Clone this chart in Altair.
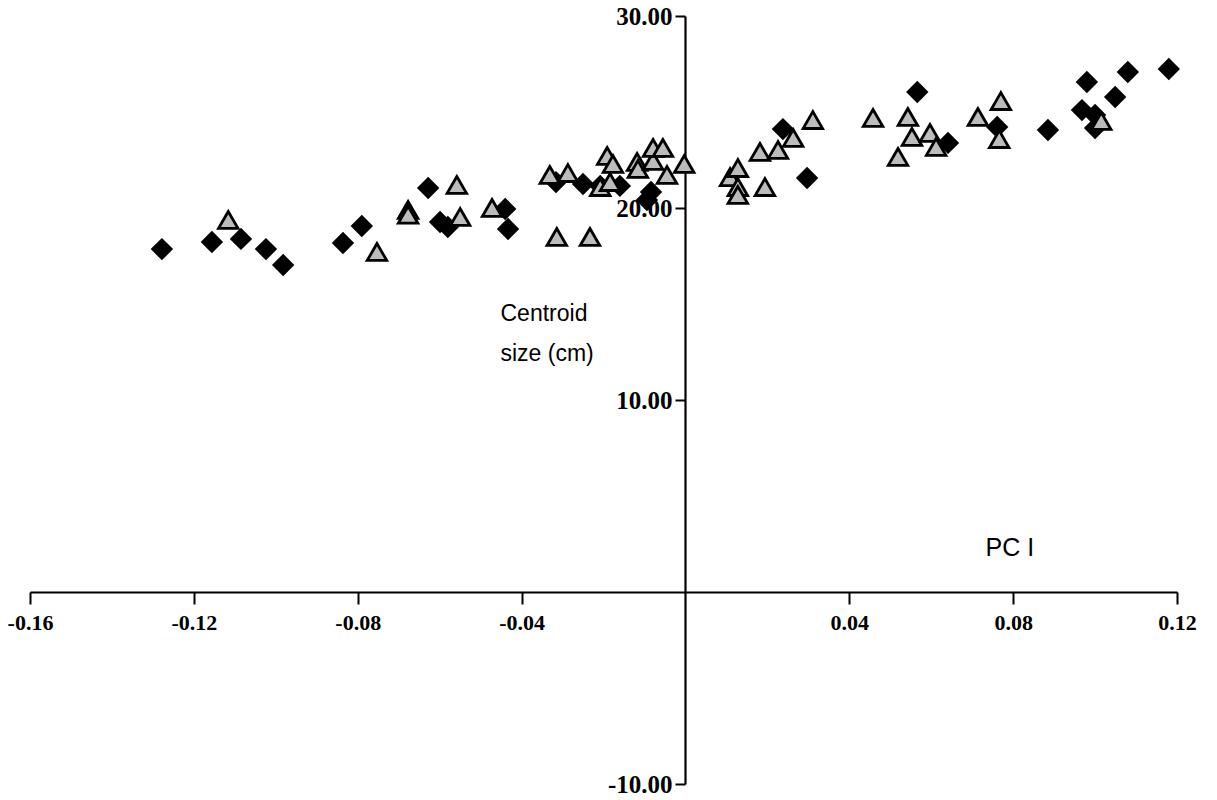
import altair as alt
import pandas as pd

# Filled diamonds (group A)
x_diamond = [-0.1278, -0.1156, -0.1085, -0.1024, -0.0982, -0.0836, -0.0790, -0.0628,
             -0.0599, -0.0580, -0.0440, -0.0433, -0.0316, -0.0250, -0.0208, -0.0160,
             -0.0084, -0.0094, 0.0238, 0.0297, 0.0566, 0.0641, 0.0761, 0.0885,
             0.0980, 0.1080, 0.1180, 0.1049, 0.0968, 0.1000, 0.1000]
y_diamond = [17.86, 18.23, 18.39, 17.86, 17.03, 18.18, 19.06, 21.04,
             19.27, 19.01, 19.95, 18.91, 21.35, 21.25, 21.15, 21.15,
             20.83, 20.42, 24.11, 21.56, 26.04, 23.39, 24.22, 24.06,
             26.56, 27.08, 27.24, 25.78, 25.10, 24.84, 24.17]

# Open grey triangles (group B)
x_triangle = [-0.1116, -0.0677, -0.0677, -0.0753, -0.0558, -0.0550, -0.0472, -0.0314,
              -0.0233, -0.0331, -0.0287, -0.0191, -0.0177, -0.0208, -0.0184, -0.0118,
              -0.0116, -0.0079, -0.0079, -0.0055, -0.0045, -0.0003, 0.0109, 0.0128,
              0.0128, 0.0128, 0.0194, 0.0182, 0.0226, 0.0263, 0.0311, 0.0458,
              0.0543, 0.0553, 0.0597, 0.0612, 0.0519, 0.0714, 0.0770, 0.0766, 0.1015]
y_triangle = [19.38, 19.90, 19.65, 17.71, 21.20, 19.53, 20.00, 18.49,
              18.49, 21.72, 21.82, 22.71, 22.29, 21.09, 21.35, 22.40,
              22.03, 22.45, 23.13, 23.13, 21.72, 22.29, 21.61, 22.08,
              21.09, 20.68, 21.09, 22.92, 23.02, 23.65, 24.58, 24.69,
              24.74, 23.70, 23.91, 23.18, 22.66, 24.74, 25.57, 23.59, 24.53]

x_ticks = [-0.16, -0.12, -0.08, -0.04, 0.04, 0.08, 0.12]
y_ticks = [-10, 10, 20, 30]

df = pd.concat([
    pd.DataFrame({"pc": x_diamond, "cs": y_diamond, "grp": "A"}),
    pd.DataFrame({"pc": x_triangle, "cs": y_triangle, "grp": "B"}),
], ignore_index=True)

W, H = 1147, 768
label_expr = "replace(format(datum.value, '.2f'), '\u2212', '-')"

base = alt.Chart(df)

points = base.mark_point(filled=True, opacity=1, strokeWidth=2.8).encode(
    x=alt.X("pc:Q",
            scale=alt.Scale(domain=[-0.16, 0.12], nice=False, zero=False),
            axis=alt.Axis(values=x_ticks, labelExpr=label_expr, grid=False,
                          offset=-192, domainColor="black", domainWidth=2.2,
                          tickColor="black", tickWidth=2, tickSize=12,
                          labelFont="Liberation Serif", labelFontWeight="bold",
                          labelFontSize=22, labelColor="black", labelPadding=8,
                          title="PC I", titleFont="Liberation Sans",
                          titleFontWeight="normal", titleFontSize=25,
                          titleColor="black", titleAlign="left",
                          titleBaseline="alphabetic", titleX=955, titleY=-37,
                          labelFlush=False, labelOverlap=False)),
    y=alt.Y("cs:Q",
            scale=alt.Scale(domain=[-10, 30], nice=False, zero=False),
            axis=alt.Axis(values=y_ticks, labelExpr=label_expr, grid=False,
                          offset=-655, domainColor="black", domainWidth=2.2,
                          tickColor="black", tickWidth=2, tickSize=10,
                          labelFont="Liberation Serif", labelFontWeight="bold",
                          labelFontSize=25, labelColor="black", labelPadding=3,
                          title=["Centroid", "size (cm)"], titleAngle=0,
                          titleFont="Liberation Sans", titleFontWeight="normal",
                          titleFontSize=23, titleColor="black", titleAlign="left",
                          titleBaseline="alphabetic", titleX=-185, titleY=304,
                          titleLineHeight=40, labelFlush=False, labelOverlap=False)),
    shape=alt.Shape("grp:N", scale=alt.Scale(domain=["A", "B"], range=["diamond", "triangle-up"]), legend=None),
    fill=alt.Fill("grp:N", scale=alt.Scale(domain=["A", "B"], range=["#000000", "#bcbcbc"]), legend=None),
    stroke=alt.Stroke("grp:N", scale=alt.Scale(domain=["A", "B"], range=["#000000", "#000000"]), legend=None),
    size=alt.Size("grp:N", scale=alt.Scale(domain=["A", "B"], range=[340, 380]), legend=None),
)

chart = points.properties(
    width=W, height=H,
    autosize=alt.AutoSizeParams(type="none"),
    padding={"left": 30, "top": 16, "right": 40, "bottom": 16},
    background="white",
).configure_view(strokeWidth=0)

chart.save("out.html", embed_options={"renderer": "svg", "actions": False})
